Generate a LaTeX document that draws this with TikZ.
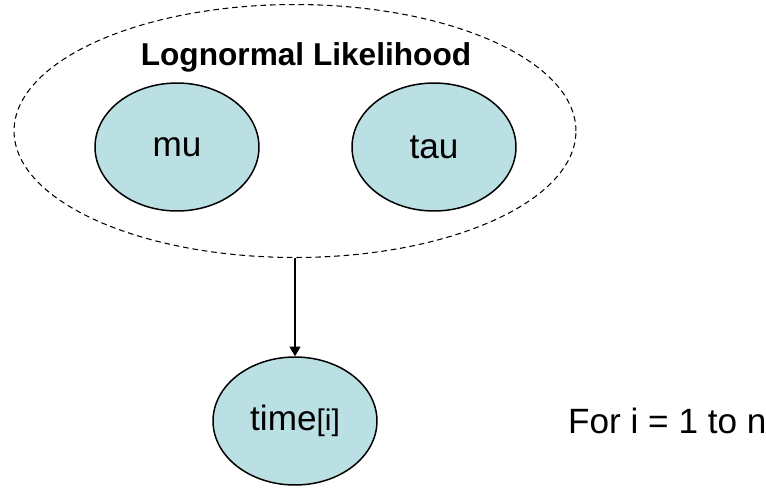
\documentclass[tikz,border=0pt]{standalone}
\usepackage{fontspec}
\setmainfont{Liberation Sans}
\usetikzlibrary{arrows.meta,shapes.geometric,positioning}
\definecolor{NodeFill}{HTML}{BAE0E3}
\definecolor{Ink}{HTML}{000000}

\begin{document}
\begin{tikzpicture}[x=0.02cm,y=-0.02cm,>=Latex,every node/.style={font=\fontsize{20}{24}\selectfont}]
    \useasboundingbox (0,0) rectangle (766,487);
    \tikzset{varnode/.style={draw=Ink,fill=NodeFill,ellipse,line width=0.85pt,inner sep=0pt,
                             minimum width=3.28cm,minimum height=2.56cm}}

    \node[draw=Ink,dash pattern=on 3.2pt off 2.2pt,line width=0.6pt,ellipse,
          minimum width=11.24cm,minimum height=5.06cm] (lik) at (295,131) {};
    \node[font=\fontsize{18}{21}\selectfont\bfseries] (liktitle) at (306,57) {Lognormal Likelihood};
    \node[varnode] (mu) at (177,147) {mu};
    \node[varnode] (tau) at (434,147) {tau};
    \node[varnode] (time) at (295,421) {time{\fontsize{17}{20}\selectfont[i]}};
    \node[anchor=west] (loop) at (562,421) {For i = 1 to n};

    \draw[-{Triangle[length=5.5pt,width=6.2pt]},Ink,line width=0.85pt] (lik.south -| time.north) -- (time.north);
  \end{tikzpicture}
\end{document}
